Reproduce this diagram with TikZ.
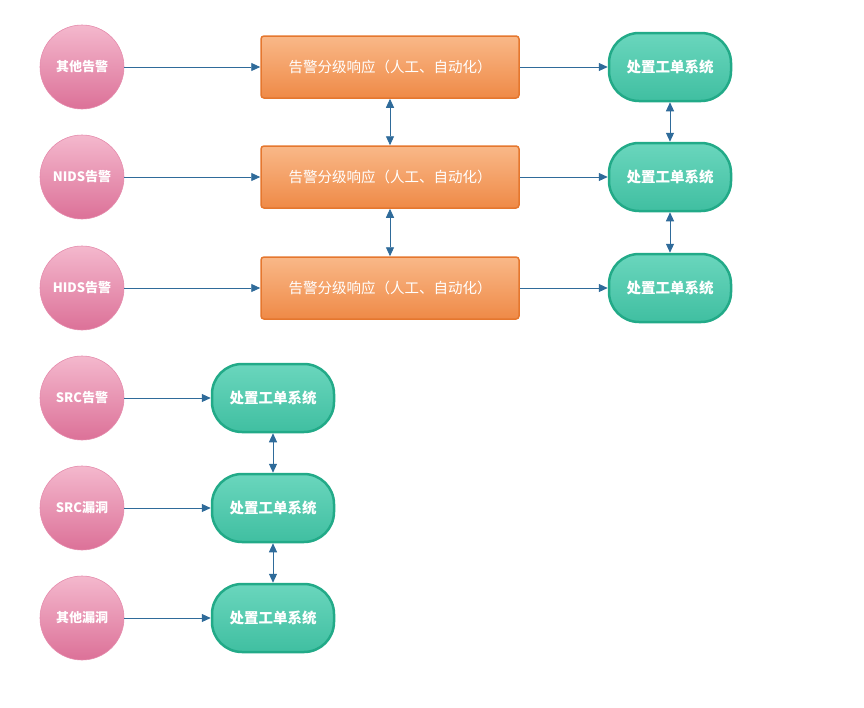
\documentclass[tikz,border=0pt]{standalone}
\usepackage{fontspec}
\setmainfont{Noto Sans CJK SC}
\usetikzlibrary{arrows.meta}
\definecolor{pinktop}{HTML}{F4B8CD}
\definecolor{pinkbot}{HTML}{DC7198}
\definecolor{pinkedge}{HTML}{E58BAC}
\definecolor{orangetop}{HTML}{F9B888}
\definecolor{orangebot}{HTML}{EF8A47}
\definecolor{orangeedge}{HTML}{E5772E}
\definecolor{greentop}{HTML}{6AD6BD}
\definecolor{greenbot}{HTML}{40BFA1}
\definecolor{greenedge}{HTML}{22AA88}
\definecolor{linkblue}{HTML}{2F6B9A}
\begin{document}
\begin{tikzpicture}[x=1pt,y=-1pt,
    source/.style={circle,minimum size=84pt,inner sep=0pt,draw=pinkedge,line width=0.6pt,
      top color=pinktop,bottom color=pinkbot,text=white,font=\fontsize{13}{15}\selectfont\bfseries},
    grade/.style={rectangle,rounded corners=3pt,minimum width=258pt,minimum height=62pt,
      draw=orangeedge,line width=1.5pt,top color=orangetop,bottom color=orangebot,
      text=white,font=\fontsize{14.5}{17}\selectfont},
    ticket/.style={rectangle,rounded corners=30pt,minimum width=122pt,minimum height=68pt,
      draw=greenedge,line width=2.5pt,top color=greentop,bottom color=greenbot,
      text=white,font=\fontsize{14.5}{17}\selectfont\bfseries},
    link/.style={draw=linkblue,line width=0.9pt,-{Triangle[length=9pt,width=8pt]}},
    both/.style={draw=linkblue,line width=0.9pt,{Triangle[length=9pt,width=8pt]}-{Triangle[length=9pt,width=8pt]}}]
  \useasboundingbox (0,0) rectangle (864,707);
  % alert sources with graded response
  \node[source] (other) at (82,67) {其他告警};
  \node[source] (nids) at (82,177) {NIDS告警};
  \node[source] (hids) at (82,288) {HIDS告警};
  \node[grade] (grade1) at (390,67) {告警分级响应（人工、自动化）};
  \node[grade] (grade2) at (390,177) {告警分级响应（人工、自动化）};
  \node[grade] (grade3) at (390,288) {告警分级响应（人工、自动化）};
  \node[ticket] (ticket1) at (670,67) {处置工单系统};
  \node[ticket] (ticket2) at (670,177) {处置工单系统};
  \node[ticket] (ticket3) at (670,288) {处置工单系统};
  % sources sent straight to tickets
  \node[source] (src) at (82,398) {SRC告警};
  \node[source] (srcvul) at (82,508) {SRC漏洞};
  \node[source] (othervul) at (82,618) {其他漏洞};
  \node[ticket] (ticket4) at (273,398) {处置工单系统};
  \node[ticket] (ticket5) at (273,508) {处置工单系统};
  \node[ticket] (ticket6) at (273,618) {处置工单系统};
  \draw[link] (other) -- (grade1);
  \draw[link] (nids) -- (grade2);
  \draw[link] (hids) -- (grade3);
  \draw[link] (grade1) -- (ticket1);
  \draw[link] (grade2) -- (ticket2);
  \draw[link] (grade3) -- (ticket3);
  \draw[link] (src) -- (ticket4);
  \draw[link] (srcvul) -- (ticket5);
  \draw[link] (othervul) -- (ticket6);
  \draw[both] (grade1) -- (grade2);
  \draw[both] (grade2) -- (grade3);
  \draw[both] (ticket1) -- (ticket2);
  \draw[both] (ticket2) -- (ticket3);
  \draw[both] (ticket4) -- (ticket5);
  \draw[both] (ticket5) -- (ticket6);
\end{tikzpicture}
\end{document}
